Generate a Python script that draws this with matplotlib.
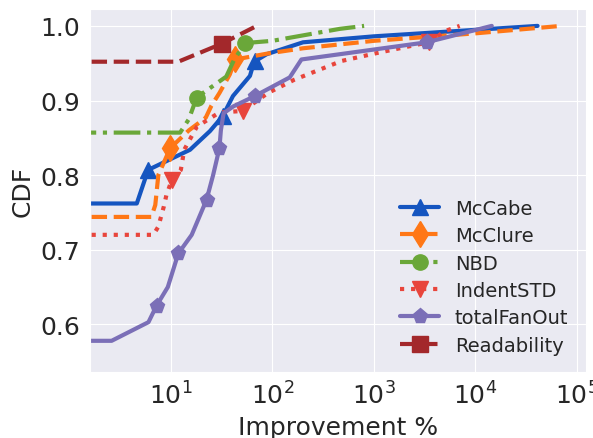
import matplotlib
matplotlib.use('Agg')
import matplotlib.pyplot as plt
import seaborn as sns

# CDF of improvement per metric
mccabe_x = [1, 4.6, 5.95, 15.4, 24.2, 32.3, 40.8, 60, 64, 68, 87.5, 200, 1000, 4.1e4]
mccabe_y = [0.762, 0.762, 0.807, 0.834, 0.859, 0.879, 0.906, 0.933, 0.946, 0.953, 0.962, 0.978, 0.986, 1.0]

mcclure_x = [1, 6.4, 7.0, 7.5, 9.8, 15, 22, 25, 30, 38, 43, 90, 200, 1000, 1e4, 7e4]
mcclure_y = [0.744, 0.744, 0.76, 0.80, 0.836, 0.86, 0.877, 0.893, 0.91, 0.935, 0.955, 0.963, 0.97, 0.98, 0.99, 1.0]

nbd_x = [1, 12.3, 15, 17.9, 25, 35, 42, 54, 100, 460, 800]
nbd_y = [0.857, 0.857, 0.875, 0.904, 0.918, 0.932, 0.955, 0.977, 0.98, 0.996, 1.0]

indent_x = [1, 6.7, 7.5, 8.5, 9, 10.2, 12.5, 13.5, 18, 30, 51, 90, 165, 480, 1100, 2700, 3500, 5000, 7000]
indent_y = [0.72, 0.72, 0.731, 0.758, 0.773, 0.794, 0.807, 0.834, 0.865, 0.884, 0.886, 0.91, 0.928, 0.953, 0.964, 0.975, 0.978, 0.993, 1.0]

fanout_x = [1, 2.6, 6.0, 7.2, 9.3, 11.8, 16, 22.4, 26, 30, 31, 33, 41, 67, 148, 193, 3300, 1.45e4]
fanout_y = [0.578, 0.578, 0.603, 0.625, 0.65, 0.695, 0.72, 0.767, 0.80, 0.836, 0.86, 0.883, 0.892, 0.906, 0.931, 0.955, 0.978, 1.0]

read_x = [1, 11.8, 31.5, 70]
read_y = [0.952, 0.952, 0.976, 1.0]

sns.set_style('darkgrid')

fig = plt.figure(figsize=(5.93, 4.39), dpi=100)
ax = fig.add_subplot(111)
fig.subplots_adjust(left=0.152, right=0.988, bottom=0.150, top=0.977)

lw = 3
ms = 11
ax.plot(mccabe_x, mccabe_y, '-', color='#1555c0', lw=lw, marker='^', ms=ms, markevery=[2, 5, 9], label='McCabe')
ax.plot(mcclure_x, mcclure_y, '--', color='#ff7716', lw=lw, marker='d', ms=ms + 2, markevery=[4, 10], label='McClure')
ax.plot(nbd_x, nbd_y, '-.', color='#6aa739', lw=lw, marker='o', ms=ms, markevery=[3, 7], label='NBD')
ax.plot(indent_x, indent_y, ':', color='#e8453c', lw=lw, marker='v', ms=ms, markevery=[5, 10, 16], label='IndentSTD')
ax.plot(fanout_x, fanout_y, '-', color='#7b6fb7', lw=lw, marker='p', ms=ms, markevery=[3, 5, 7, 9, 13, 16], label='totalFanOut')
ax.plot(read_x, read_y, '--', color='#a3282b', lw=lw, marker='s', ms=ms, markevery=[2], label='Readability')

ax.set_xscale('log')
ax.set_xlim(1.596, 1.227e5)
ax.set_ylim(0.536, 1.0225)
ax.set_yticks([0.6, 0.7, 0.8, 0.9, 1.0])
ax.tick_params(labelsize=18)
ax.set_xlabel('Improvement %', fontsize=18)
ax.set_ylabel('CDF', fontsize=18)
ax.legend(loc='lower right', frameon=False, fontsize=14, labelspacing=0.43)

fig.savefig('out.png', dpi=100)
